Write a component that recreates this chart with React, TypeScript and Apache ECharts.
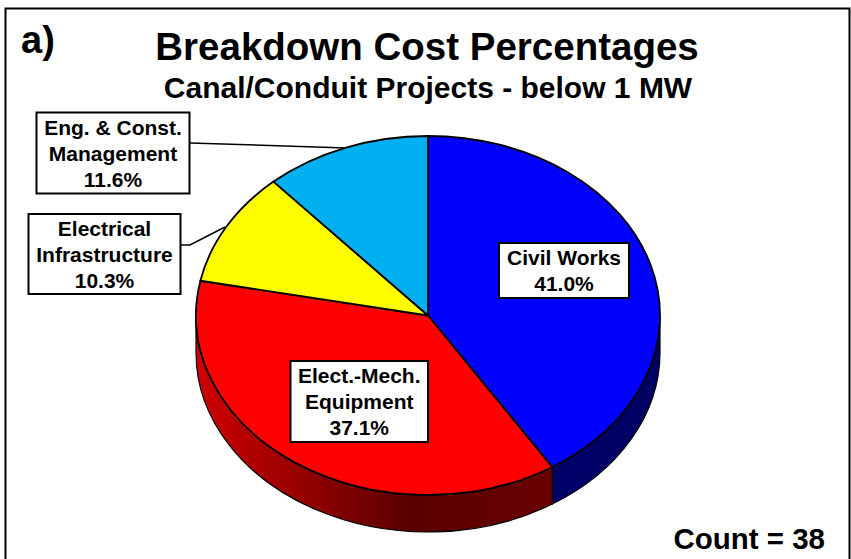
import React, { useEffect, useRef } from "react";
import * as echarts from "echarts";

const categories = ["Civil Works", "Elect.-Mech.\nEquipment", "Electrical\nInfrastructure", "Eng. & Const.\nManagement"];
const percentages = [41.0, 37.1, 10.3, 11.6];
const topColors = ["#0000FF", "#FF0000", "#FFFF00", "#00B0F0"];
const sideStops: string[][] = [["#00006A", "#000060"], ["#D00000", "#5A0000", "#6A0000"], ["#888800", "#888800"], ["#005878", "#005878"]];
const boxes = [
  { x: 499, y: 243, w: 130, h: 55 },
  { x: 290.5, y: 361, w: 137.5, h: 81 },
  { x: 28.5, y: 214, w: 152, h: 80 },
  { x: 36.5, y: 112.5, w: 153, h: 81 },
];
const leaders: number[][][] = [[], [], [[181, 245], [190, 245], [225, 227]], [[190, 143], [346, 148]]];

const CX = 428, CY = 315.5, RX = 232, RY = 179.5, DEPTH = 37;
const pt = (deg: number, dy = 0): [number, number] => {
  const a = (deg * Math.PI) / 180;
  return [CX + RX * Math.sin(a), CY - RY * Math.cos(a) + dy];
};
const arc = (to: number, from: number, dy = 0) => {
  const [x, y] = pt(to, dy);
  return `A ${RX} ${RY} 0 ${Math.abs(to - from) > 180 ? 1 : 0} ${to > from ? 1 : 0} ${x} ${y}`;
};

function App() {
  const ref = useRef<HTMLDivElement>(null);
  useEffect(() => {
    const chart = echarts.init(ref.current!, null, { renderer: "svg" });
    const total = percentages.reduce((s, v) => s + v, 0);
    let acc = 0;
    const spans = percentages.map((v) => {
      const s = (acc / total) * 360;
      acc += v;
      return [s, (acc / total) * 360];
    });
    const family = "'Liberation Sans', Arial, sans-serif";
    chart.setOption({
      animation: false,
      backgroundColor: "#ffffff",
      title: [
        { text: "Breakdown Cost Percentages", left: 422, top: 22, textAlign: "center",
          textStyle: { fontFamily: family, fontWeight: "bold", fontSize: 38.5, color: "#000" } },
        { text: "Canal/Conduit Projects - below 1 MW", left: 423, top: 67, textAlign: "center",
          textStyle: { fontFamily: family, fontWeight: "bold", fontSize: 30, color: "#000" } },
      ],
      graphic: [
        { type: "rect", shape: { x: 5.5, y: 8.5, width: 844, height: 560 }, style: { fill: "none", stroke: "#000", lineWidth: 2 }, silent: true },
        { type: "text", x: 21, y: 21, style: { text: "a)", font: `bold 38px ${family}`, fill: "#000" } },
        { type: "text", x: 825, y: 523, style: { text: "Count = 38", align: "right", font: `bold 29.5px ${family}`, fill: "#000" } },
      ],
      series: [
        {
          type: "custom",
          coordinateSystem: "none",
          data: percentages.map((v, i) => [v, i]),
          clip: false,
          renderItem: (_p: any, api: any) => {
            const i = api.value(1) as number;
            const [s, e] = spans[i];
            const children: any[] = [];
            const fs = Math.max(s, 90), fe = Math.min(e, 270);
            if (fs < fe) {
              const [x0, y0] = pt(fs);
              const [x2, y2] = pt(fe);
              const d = `M ${x0} ${y0} L ${pt(fs, DEPTH).join(" ")} ${arc(fe, fs, DEPTH)} L ${x2} ${y2} ${arc(fs, fe)} Z`;
              const stops = sideStops[i];
              children.push({
                type: "path",
                shape: { pathData: d },
                z2: 1,
                style: {
                  fill: new echarts.graphic.LinearGradient(0, 0, 1, 0,
                    stops.map((c, k) => ({ offset: stops.length === 3 ? [0, 0.6, 1][k] : k, color: c }))),
                  stroke: "#000", lineWidth: 1.2,
                },
              });
            }
            const [sx, sy] = pt(s);
            const d2 = `M ${CX} ${CY} L ${sx} ${sy} ${arc(e, s)} Z`;
            children.push({
              type: "path",
              shape: { pathData: d2 },
              z2: 2,
              style: { fill: topColors[i], stroke: "#000", lineWidth: 1.8, lineJoin: "round" },
            });
            const lead = leaders[i];
            if (lead.length) {
              children.push({ type: "polyline", z2: 3, shape: { points: lead }, style: { fill: "none", stroke: "#000", lineWidth: 1.5 } });
            }
            const b = boxes[i];
            children.push({ type: "rect", z2: 4, shape: { x: b.x, y: b.y, width: b.w, height: b.h }, style: { fill: "#fff", stroke: "#000", lineWidth: 2 } });
            children.push({
              type: "text", z2: 5, x: b.x + b.w / 2, y: b.y + b.h / 2,
              style: {
                text: `${categories[i]}\n${percentages[i].toFixed(1)}%`,
                align: "center", verticalAlign: "middle", font: `bold 21px ${family}`, lineHeight: 26, fill: "#000",
              },
            });
            return { type: "group", children };
          },
        },
      ],
    });
    return () => chart.dispose();
  }, []);
  return <div ref={ref} style={{ position: "absolute", left: 0, top: 0, width: 851, height: 559 }} />;
}

export default App;
